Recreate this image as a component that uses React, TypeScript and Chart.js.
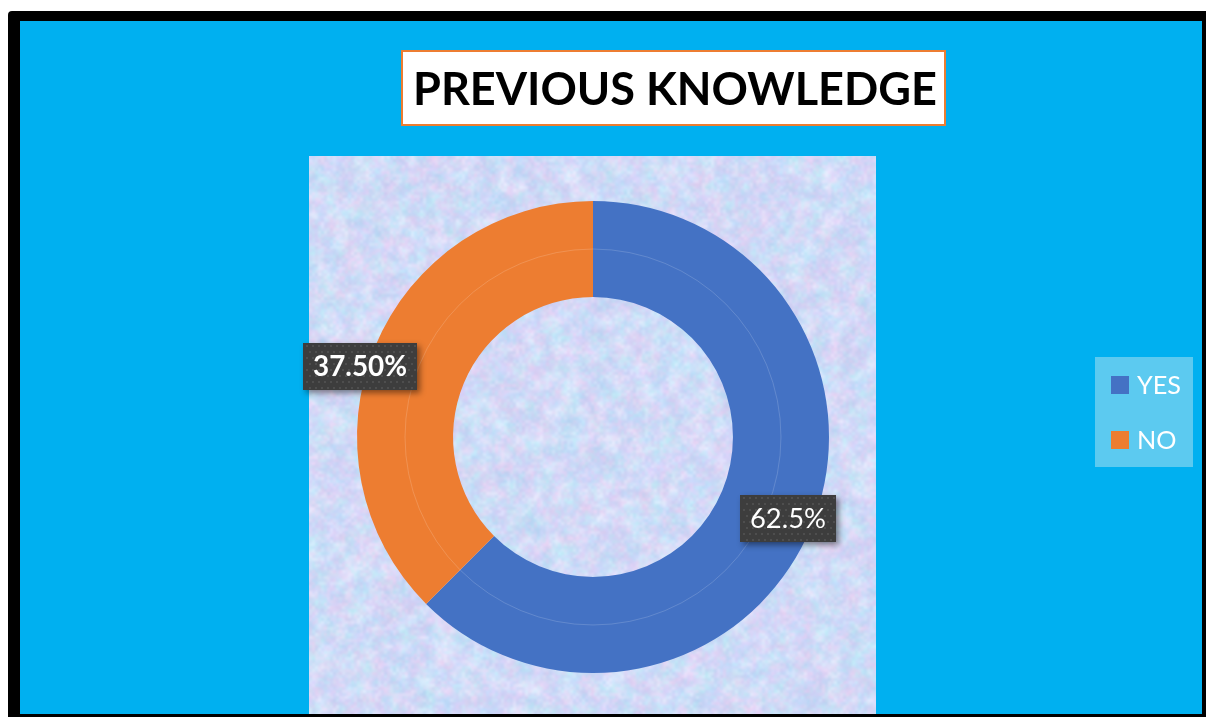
import React, { useEffect, useRef } from "react";
import { Chart, registerables } from "chart.js";

Chart.register(...registerables);

const categories = ["YES", "NO"];
const values = [62.5, 37.5];
const valueLabels = ["62.5%", "37.50%"];
const labelBold = [false, true];
const sliceColors = ["#4472C4", "#ED7D31"];
const chartTitle = "PREVIOUS KNOWLEDGE";

const FONT = "Lato, 'Open Sans', 'Noto Sans', sans-serif";

function makeRng(seed: number) {
  let s = seed >>> 0;
  return () => {
    s = (Math.imul(s, 1664525) + 1013904223) >>> 0;
    return s / 4294967296;
  };
}

function makeTexture(w: number, h: number) {
  const c = document.createElement("canvas");
  c.width = w;
  c.height = h;
  const ctx = c.getContext("2d")!;
  ctx.fillStyle = "#d4ddf6";
  ctx.fillRect(0, 0, w, h);
  const rng = makeRng(24681);
  const palette = [
    [188, 216, 247],
    [212, 208, 247],
    [230, 212, 244],
    [194, 232, 247],
    [226, 232, 251],
    [204, 210, 244],
  ];
  const layers: [number, number][] = [
    [9, 1],
    [3, 0.4],
  ];
  for (const [cell, alpha] of layers) {
    const sw = Math.ceil(w / cell) + 2;
    const sh = Math.ceil(h / cell) + 2;
    const s = document.createElement("canvas");
    s.width = sw;
    s.height = sh;
    const sctx = s.getContext("2d")!;
    const img = sctx.createImageData(sw, sh);
    for (let i = 0; i < sw * sh; i++) {
      const p = palette[Math.floor(rng() * palette.length)];
      const j = (rng() - 0.5) * 14;
      img.data[i * 4] = p[0] + j;
      img.data[i * 4 + 1] = p[1] + j;
      img.data[i * 4 + 2] = p[2] + j;
      img.data[i * 4 + 3] = 255;
    }
    sctx.putImageData(img, 0, 0);
    ctx.globalAlpha = alpha;
    ctx.imageSmoothingEnabled = true;
    (ctx as any).imageSmoothingQuality = "high";
    ctx.drawImage(s, -cell, -cell, sw * cell, sh * cell);
  }
  ctx.globalAlpha = 1;
  return c;
}

function fitFont(ctx: CanvasRenderingContext2D, text: string, weight: string, width: number) {
  ctx.font = `${weight} 100px ${FONT}`;
  const m = ctx.measureText(text).width;
  return (100 * width) / m;
}

let textureCache: HTMLCanvasElement | null = null;

const framePlugin = {
  id: "frame",
  beforeDraw(chart: any) {
    const ctx: CanvasRenderingContext2D = chart.ctx;
    ctx.save();
    ctx.fillStyle = "#000000";
    ctx.beginPath();
    (ctx as any).roundRect ? (ctx as any).roundRect(8, 11, 1220, 720, 4) : ctx.rect(8, 11, 1220, 720);
    ctx.fill();
    ctx.fillStyle = "#00B0F0";
    ctx.fillRect(20, 21, 1182, 693);
    if (!textureCache) textureCache = makeTexture(567, 558);
    ctx.drawImage(textureCache, 309, 156);
    ctx.fillStyle = "#ffffff";
    ctx.fillRect(402, 51, 543, 74);
    ctx.strokeStyle = "#ED7D31";
    ctx.lineWidth = 2;
    ctx.strokeRect(402, 51, 543, 74);
    const size = fitFont(ctx, chartTitle, "bold", 524);
    ctx.font = `bold ${size}px ${FONT}`;
    ctx.fillStyle = "#000000";
    ctx.textBaseline = "alphabetic";
    ctx.textAlign = "left";
    ctx.fillText(chartTitle, 413, 105);
    ctx.restore();
  },
};

const labelPlugin = {
  id: "valueLabels",
  afterDatasetsDraw(chart: any, _args: any, opts: any) {
    const ctx: CanvasRenderingContext2D = chart.ctx;
    const meta = chart.getDatasetMeta(0);
    ctx.save();
    const a0: any = meta.data[0].getProps(["x", "y", "innerRadius", "outerRadius"], true);
    ctx.strokeStyle = "rgba(255,255,255,0.16)";
    ctx.lineWidth = 1;
    ctx.beginPath();
    ctx.arc(a0.x, a0.y, (a0.innerRadius + a0.outerRadius) / 2, 0, Math.PI * 2);
    ctx.stroke();

    meta.data.forEach((arc: any, i: number) => {
      const p = arc.getProps(["x", "y", "startAngle", "endAngle", "innerRadius", "outerRadius"], true);
      const mid = (p.startAngle + p.endAngle) / 2;
      const r = (p.innerRadius + p.outerRadius) / 2;
      const off = opts.offsets[i] || [0, 0];
      const cx = p.x + Math.cos(mid) * r + off[0];
      const cy = p.y + Math.sin(mid) * r + off[1];
      const text = valueLabels[i];
      const weight = labelBold[i] ? "bold" : "normal";
      const tw = opts.textWidths[i];
      const size = fitFont(ctx, text, weight, tw);
      ctx.font = `${weight} ${size}px ${FONT}`;
      const bw = tw + 20;
      const bh = 47;
      const bx = Math.round(cx - bw / 2);
      const by = Math.round(cy - bh / 2);
      ctx.save();
      ctx.shadowColor = "rgba(0,0,0,0.45)";
      ctx.shadowBlur = 6;
      ctx.shadowOffsetX = 3;
      ctx.shadowOffsetY = 3;
      ctx.fillStyle = "#3d3d3d";
      ctx.fillRect(bx, by, bw, bh);
      ctx.restore();
      ctx.fillStyle = "rgba(255,255,255,0.09)";
      for (let yy = by + 2; yy < by + bh - 1; yy += 6) {
        for (let xx = bx + 2 + (((yy - by) / 6) % 2) * 3; xx < bx + bw - 1; xx += 6) {
          ctx.fillRect(xx, yy, 2, 2);
        }
      }
      ctx.fillStyle = "#ffffff";
      ctx.textAlign = "center";
      ctx.textBaseline = "middle";
      ctx.fillText(text, bx + bw / 2, by + bh / 2 + 1);
    });
    ctx.restore();
  },
};

const legendPlugin = {
  id: "customLegend",
  afterDraw(chart: any) {
    const ctx: CanvasRenderingContext2D = chart.ctx;
    const labels: string[] = chart.data.labels;
    const colors: string[] = chart.data.datasets[0].backgroundColor;
    ctx.save();
    ctx.fillStyle = "#5ccaf0";
    ctx.fillRect(1095, 357, 98, 110);
    const size = fitFont(ctx, "YES", "normal", 44);
    labels.forEach((lab, i) => {
      const y = 376 + i * 55;
      ctx.fillStyle = colors[i];
      ctx.fillRect(1111, y, 18, 18);
      ctx.fillStyle = "#ffffff";
      ctx.font = `normal ${size}px ${FONT}`;
      ctx.textAlign = "left";
      ctx.textBaseline = "alphabetic";
      ctx.fillText(lab, 1137, y + 18);
    });
    ctx.restore();
  },
};

export default function App() {
  const ref = useRef<HTMLCanvasElement | null>(null);
  useEffect(() => {
    if (!ref.current) return;
    const chart = new Chart(ref.current, {
      type: "doughnut",
      data: {
        labels: categories,
        datasets: [
          {
            data: values,
            backgroundColor: sliceColors,
            borderWidth: 0,
            hoverOffset: 0,
          },
        ],
      },
      options: {
        animation: false,
        responsive: true,
        maintainAspectRatio: false,
        cutout: "59.3%",
        layout: { padding: { left: 357, right: 377, top: 201, bottom: 44 } },
        plugins: {
          legend: { display: false },
          tooltip: { enabled: false },
          title: { display: false },
          valueLabels: {
            offsets: [
              [21, 10],
              [-59, 1],
            ],
            textWidths: [76, 94],
          },
        } as any,
      },
      plugins: [framePlugin, labelPlugin, legendPlugin],
    });
    return () => chart.destroy();
  }, []);
  return (
    <div style={{ position: "fixed", left: 0, top: 0, width: 1206, height: 717 }}>
      <canvas ref={ref} />
    </div>
  );
}
